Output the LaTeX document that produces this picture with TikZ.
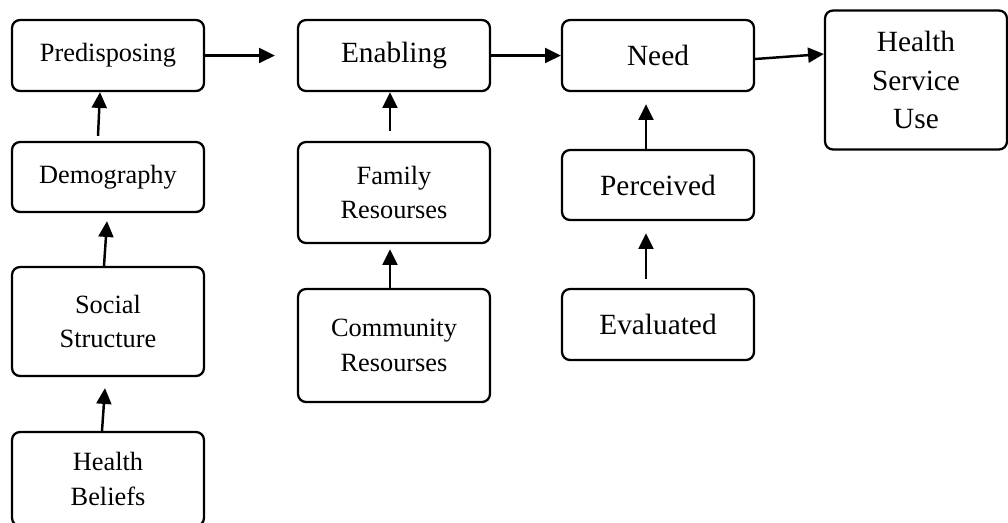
\documentclass[tikz,border=0pt]{standalone}
\usepackage{fontspec}
\setmainfont{Liberation Serif}
\usetikzlibrary{arrows.meta}

\tikzset{
  factor/.style={draw, line width=1.3pt, rounded corners=0.16cm, align=center,
    inner sep=0pt, font=\fontsize{15}{19.5}\selectfont},
  bigfactor/.style={factor, font=\fontsize{16.7}{21.8}\selectfont},
  link/.style={line width=1.4pt, -{Triangle[length=9pt,width=8.5pt]}},
}

\begin{document}
\begin{tikzpicture}[x=0.02cm,y=-0.02cm]
\clip (0,0) rectangle (1008,522);
% top row
\node[factor, minimum width=3.84cm, minimum height=1.42cm] (pred) at (108,55.5) {Predisposing};
\node[bigfactor, minimum width=3.84cm, minimum height=1.42cm] (enab) at (394,55.5) {Enabling};
\node[bigfactor, minimum width=3.84cm, minimum height=1.42cm] (need) at (658,55.5) {Need};
\node[bigfactor, minimum width=3.64cm, minimum height=2.78cm] (use) at (916,80) {Health\\Service\\Use};
% predisposing column
\node[factor, minimum width=3.84cm, minimum height=1.40cm] (demo) at (108,177) {Demography};
\node[factor, minimum width=3.84cm, minimum height=2.18cm] (social) at (108,321.5) {Social\\Structure};
\node[factor, minimum width=3.84cm, minimum height=1.88cm] (beliefs) at (108,479) {Health\\Beliefs};
% enabling column
\node[factor, minimum width=3.84cm, minimum height=2.02cm] (family) at (394,192.5) {Family\\Resourses};
\node[factor, minimum width=3.84cm, minimum height=2.26cm] (community) at (394,345.5) {Community\\Resourses};
% need column
\node[bigfactor, minimum width=3.84cm, minimum height=1.40cm] (perc) at (658,185) {Perceived};
\node[bigfactor, minimum width=3.84cm, minimum height=1.42cm] (eval) at (658,324.5) {Evaluated};

% links
\draw[link] (pred.east) -- ([xshift=-0.44cm]enab.west);
\draw[link] (enab.east) -- (need.west);
\draw[link] ([yshift=-0.07cm]need.east) -- ([yshift=0.52cm]use.west);
\draw[link] ([xshift=-0.2cm,yshift=0.1cm]demo.north) -- ([xshift=-0.16cm]pred.south);
\draw[link] ([xshift=-0.08cm]social.north) -- ([xshift=-0.02cm,yshift=-0.16cm]demo.south);
\draw[link] ([xshift=-0.12cm]beliefs.north) -- ([xshift=-0.06cm,yshift=-0.22cm]social.south);
\draw[link] ([xshift=-0.08cm,yshift=0.2cm]family.north) -- ([xshift=-0.08cm]enab.south);
\draw[link] ([xshift=-0.08cm]community.north) -- ([xshift=-0.08cm,yshift=-0.1cm]family.south);
\draw[link] ([xshift=-0.24cm]perc.north) -- ([xshift=-0.24cm,yshift=-0.24cm]need.south);
\draw[link] ([xshift=-0.24cm,yshift=0.18cm]eval.north) -- ([xshift=-0.24cm,yshift=-0.24cm]perc.south);
\end{tikzpicture}
\end{document}
